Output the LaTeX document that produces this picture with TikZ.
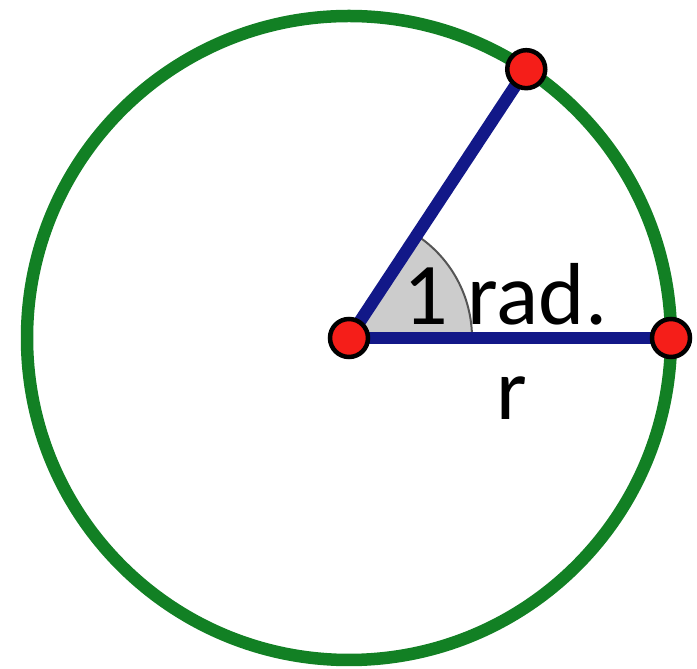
\documentclass[tikz,border=0pt]{standalone}
\usepackage{fontspec}
\setmainfont{Carlito}
\definecolor{cgreen}{RGB}{18,128,36}
\definecolor{cblue}{RGB}{18,24,136}
\definecolor{cred}{RGB}{245,30,25}
\definecolor{cfill}{RGB}{204,204,204}
\definecolor{carc}{RGB}{85,85,85}
\begin{document}
\begin{tikzpicture}[x=1pt,y=1pt,
  dot/.style={circle,fill=cred,draw=black,line width=4.5pt,minimum size=38pt,inner sep=0pt},
  seg/.style={draw=cblue,line width=12.5pt},
  lbl/.style={font=\fontsize{88}{100}\selectfont,inner sep=0pt}]
\useasboundingbox (0,0) rectangle (697,669);
\coordinate (C) at (349,331);
\draw[cgreen,line width=12.5pt] (C) circle[radius=322pt];
\filldraw[fill=cfill,draw=carc,line width=2pt] (C) -- ++(0:123pt) arc[start angle=0,end angle=56.6,radius=123pt] -- cycle;
\path (C) ++(0:322pt) coordinate (B) (C) ++(56.6:322pt) coordinate (A);
\draw[seg] (C) -- (B);
\draw[seg] (C) -- (A);
\node[dot] (c) at (C) {};
\node[dot] (b) at (B) {};
\node[dot] (a) at (A) {};
\node[lbl,anchor=base west] (t) at (403,344) {1 rad.};
\node[lbl,anchor=base] (r) at (512,249) {r};
\end{tikzpicture}
\end{document}
